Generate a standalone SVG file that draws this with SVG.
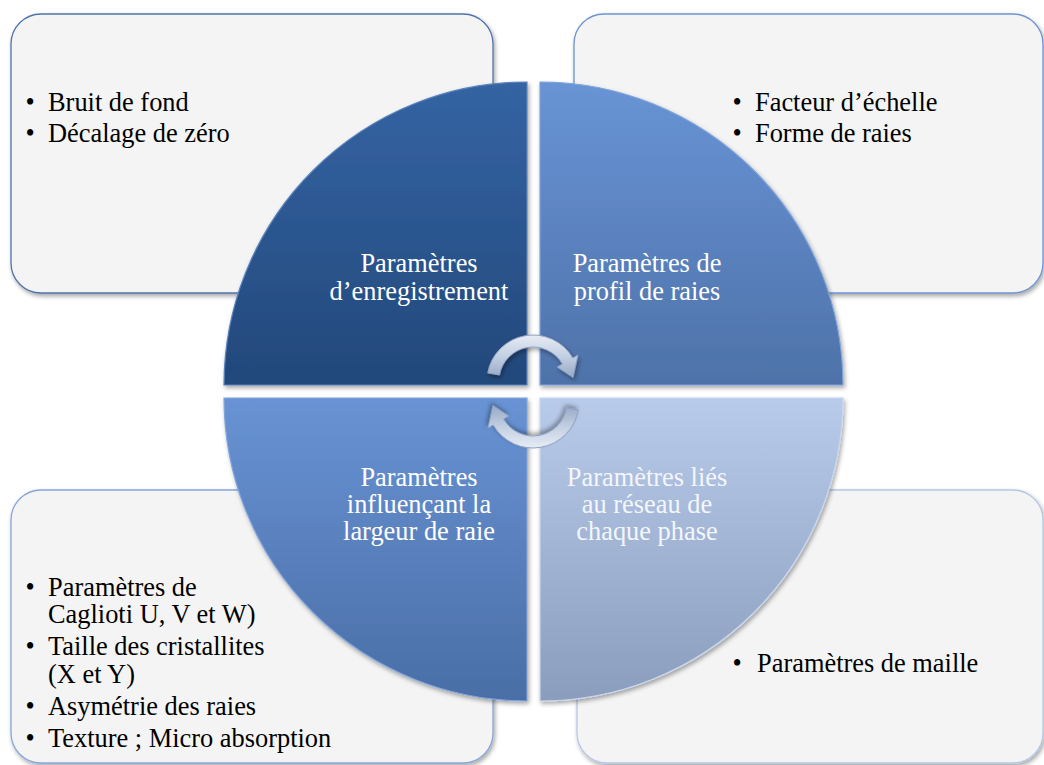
<svg xmlns="http://www.w3.org/2000/svg" width="1044" height="765" viewBox="0 0 1044 765">
  <defs>
    <style>
      .box { fill: #f4f4f4; stroke-width: 1.3; }
      .btxt { font-family: "Liberation Serif", "Times New Roman", serif; font-size: 26.4px; fill: #000000; }
      .stxt { font-family: "Liberation Serif", "Times New Roman", serif; font-size: 26.4px; fill: #ffffff; text-anchor: middle; }
      .slice { stroke-width: 1.2; }
    </style>
    <filter id="shadow" x="-10%" y="-10%" width="125%" height="125%">
      <feDropShadow dx="1.5" dy="2.5" stdDeviation="2.2" flood-color="#000000" flood-opacity="0.35"/>
    </filter>
    <linearGradient id="gTL" x1="0" y1="0" x2="0" y2="1">
      <stop offset="0" stop-color="#3464a3"/>
      <stop offset="1" stop-color="#23487b"/>
    </linearGradient>
    <linearGradient id="gTR" x1="0" y1="0" x2="0" y2="1">
      <stop offset="0" stop-color="#6894d5"/>
      <stop offset="1" stop-color="#4e72a9"/>
    </linearGradient>
    <linearGradient id="gBL" x1="0" y1="0" x2="0" y2="1">
      <stop offset="0" stop-color="#6893d4"/>
      <stop offset="1" stop-color="#4a6ea6"/>
    </linearGradient>
    <linearGradient id="gBR" x1="0" y1="0" x2="0" y2="1">
      <stop offset="0" stop-color="#b9cbeb"/>
      <stop offset="1" stop-color="#8a9dbc"/>
    </linearGradient>
    <linearGradient id="gArrow" x1="0" y1="0" x2="0" y2="1">
      <stop offset="0" stop-color="#e6ecf5"/>
      <stop offset="0.5" stop-color="#c3cfe2"/>
      <stop offset="1" stop-color="#97a9c6"/>
    </linearGradient>
    <path id="arrow" d="M 487.7 373 A 46 46 0 0 1 572.8 358 L 578 355 L 573 377.5 L 557.2 367 L 562.4 364 A 34 34 0 0 0 499.5 375 Z"/>
  </defs>

  <rect width="1044" height="765" fill="#ffffff"/>

  <g id="box-tl">
    <rect class="box" x="11" y="14" width="482" height="279" rx="30" ry="30" stroke="#4f74ab" filter="url(#shadow)"/>
    <text class="btxt" x="25.5" y="111">•</text>
    <text class="btxt" x="48" y="111">Bruit de fond</text>
    <text class="btxt" x="25.5" y="142">•</text>
    <text class="btxt" x="48" y="142">Décalage de zéro</text>
  </g>

  <g id="box-tr">
    <rect class="box" x="574" y="14" width="469" height="279" rx="30" ry="30" stroke="#6d94cf" filter="url(#shadow)"/>
    <text class="btxt" x="732.5" y="111">•</text>
    <text class="btxt" x="755" y="111">Facteur d’échelle</text>
    <text class="btxt" x="732.5" y="142">•</text>
    <text class="btxt" x="755" y="142">Forme de raies</text>
  </g>

  <g id="box-bl">
    <rect class="box" x="11" y="490" width="482" height="273" rx="30" ry="30" stroke="#87a6d8" filter="url(#shadow)"/>
    <text class="btxt" x="25.5" y="596">•</text>
    <text class="btxt" x="48" y="596">Paramètres de</text>
    <text class="btxt" x="48" y="623">Caglioti U, V et W)</text>
    <text class="btxt" x="25.5" y="655">•</text>
    <text class="btxt" x="48" y="655">Taille des cristallites</text>
    <text class="btxt" x="48" y="683">(X et Y)</text>
    <text class="btxt" x="25.5" y="715">•</text>
    <text class="btxt" x="48" y="715">Asymétrie des raies</text>
    <text class="btxt" x="25.5" y="747">•</text>
    <text class="btxt" x="48" y="747">Texture ; Micro absorption</text>
  </g>

  <g id="box-br">
    <rect class="box" x="577" y="490" width="466" height="273" rx="30" ry="30" stroke="#b5c7e6" filter="url(#shadow)"/>
    <text class="btxt" x="732.5" y="672">•</text>
    <text class="btxt" x="757" y="672">Paramètres de maille</text>
  </g>

  <g id="slice-tl">
    <path class="slice" d="M 527 385 L 224 385 A 303 303 0 0 1 527 82 Z" fill="url(#gTL)" stroke="#5a82bd" filter="url(#shadow)"/>
    <text class="stxt" x="419" y="272">Paramètres</text>
    <text class="stxt" x="419" y="300">d’enregistrement</text>
  </g>

  <g id="slice-tr">
    <path class="slice" d="M 540 385 L 540 82 A 303 303 0 0 1 843 385 Z" fill="url(#gTR)" stroke="#7fa3dc" filter="url(#shadow)"/>
    <text class="stxt" x="647" y="272">Paramètres de</text>
    <text class="stxt" x="647" y="300">profil de raies</text>
  </g>

  <g id="slice-bl">
    <path class="slice" d="M 527 398 L 527 701 A 303 303 0 0 1 224 398 Z" fill="url(#gBL)" stroke="#80a4dc" filter="url(#shadow)"/>
    <text class="stxt" x="419" y="486">Paramètres</text>
    <text class="stxt" x="419" y="513">influençant la</text>
    <text class="stxt" x="419" y="540">largeur de raie</text>
  </g>

  <g id="slice-br">
    <path class="slice" d="M 540 398 L 843 398 A 303 303 0 0 1 540 701 Z" fill="url(#gBR)" stroke="#c8d7f0" filter="url(#shadow)"/>
    <text class="stxt" x="647" y="486" fill="#f3f6fb" style="fill:#f3f6fb">Paramètres liés</text>
    <text class="stxt" x="647" y="513" style="fill:#f3f6fb">au réseau de</text>
    <text class="stxt" x="647" y="540" style="fill:#f3f6fb">chaque phase</text>
  </g>

  <g id="connectors">
    <use href="#arrow" fill="url(#gArrow)" stroke="#8fa2c2" stroke-width="1" filter="url(#shadow)"/>
    <use href="#arrow" fill="url(#gArrow)" stroke="#8fa2c2" stroke-width="1" filter="url(#shadow)" transform="rotate(180 533 391.5)"/>
  </g>
</svg>
